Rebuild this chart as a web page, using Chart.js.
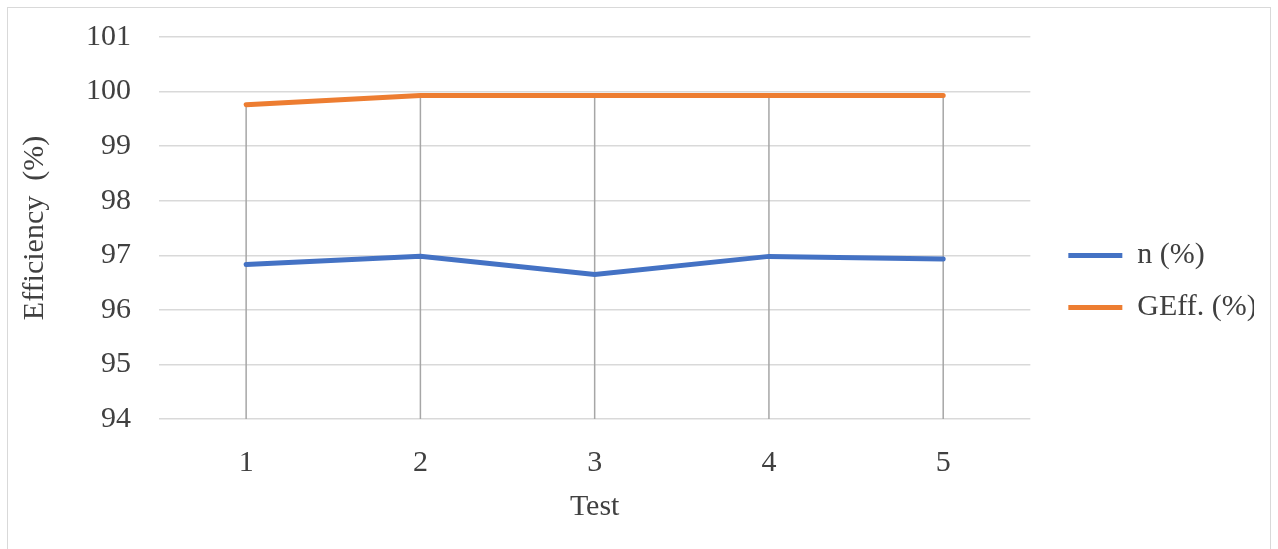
<!DOCTYPE html>
<html>
<head>
<meta charset="utf-8">
<script src="https://cdn.jsdelivr.net/npm/chart.js@4/dist/chart.umd.min.js"></script>
<style>
html, body { margin: 0; padding: 0; background: #fff; }
#frame { position: absolute; left: 7px; top: 7px; width: 1262px; height: 560px; border: 1px solid #d9d9d9; }
#wrap { position: absolute; left: 8px; top: 8px; width: 1262px; height: 541px; }
</style>
</head>
<body>
<div id="frame"></div>
<div id="wrap"><canvas id="chart"></canvas></div>
<script>
const tests = ['1', '2', '3', '4', '5']
const nValues = [96.83, 96.98, 96.65, 96.98, 96.93]
const gEffValues = [99.76, 99.93, 99.93, 99.93, 99.93]
const yTicks = [94, 95, 96, 97, 98, 99, 100, 101]

const serif = 'Liberation Serif'
const textColor = '#404040'

//vertical drop lines from the top series down to the axis
const dropLines = {
	id: 'dropLines',
	beforeDatasetsDraw(chart) {
		const meta = chart.getDatasetMeta(1)
		const bottom = chart.scales.y.bottom
		const ctx = chart.ctx
		ctx.save()
		ctx.strokeStyle = '#a6a6a6'
		ctx.lineWidth = 1.5
		meta.data.forEach(pt => {
			ctx.beginPath()
			ctx.moveTo(pt.x, pt.y)
			ctx.lineTo(pt.x, bottom)
			ctx.stroke()
		})
		ctx.restore()
	}
}

new Chart(document.getElementById('chart'), {
	type: 'line',
	data: {
		labels: tests,
		datasets: [
			{
				label: 'n (%)',
				data: nValues,
				borderColor: '#4472c4',
				backgroundColor: '#4472c4',
				borderWidth: 5,
				borderCapStyle: 'round',
				pointRadius: 0,
				tension: 0
			},
			{
				label: 'GEff. (%)',
				data: gEffValues,
				borderColor: '#ed7d31',
				backgroundColor: '#ed7d31',
				borderWidth: 5,
				borderCapStyle: 'round',
				pointRadius: 0,
				tension: 0
			}
		]
	},
	options: {
		responsive: true,
		maintainAspectRatio: false,
		animation: false,
		layout: { padding: { top: 29, right: 16, bottom: 23, left: 0 } },
		plugins: {
			tooltip: { enabled: false },
			legend: {
				position: 'right',
				labels: {
					usePointStyle: true,
					pointStyle: 'line',
					pointStyleWidth: 54,
					padding: 22,
					color: textColor,
					font: { family: serif, size: 30 }
				}
			}
		},
		scales: {
			x: {
				offset: true,
				grid: { display: false, drawTicks: false },
				border: { display: false },
				ticks: { color: textColor, padding: 26, font: { family: serif, size: 30 } },
				title: { display: true, text: 'Test', color: textColor, padding: { top: 0, bottom: 1 }, font: { family: serif, size: 30 } },
				afterFit(scale) { scale.height = 107 }
			},
			y: {
				min: 94,
				max: 101,
				afterBuildTicks(scale) { scale.ticks = yTicks.map(v => ({ value: v })) },
				grid: { color: '#d9d9d9', lineWidth: 1.5, drawTicks: false },
				border: { display: false },
				ticks: { color: textColor, padding: 28, font: { family: serif, size: 30 } },
				title: { display: true, text: 'Efficiency  (%)', color: textColor, padding: { top: 9, bottom: 0 }, font: { family: serif, size: 30 } },
				afterFit(scale) {
					scale.width = 151
					scale.paddingTop = 0
					scale.paddingBottom = 0
				}
			},
			gap: {
				type: 'linear',
				position: 'right',
				display: true,
				grid: { display: false },
				border: { display: false },
				ticks: { display: false },
				afterFit(scale) { scale.width = 16 }
			}
		}
	},
	plugins: [dropLines]
})
</script>
</body>
</html>
